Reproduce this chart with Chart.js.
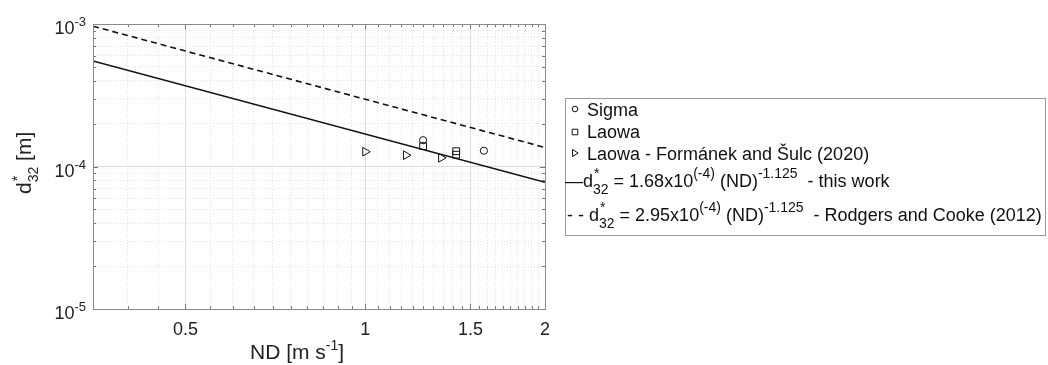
<!DOCTYPE html>
<html>
<head>
<meta charset="utf-8">
<script src="https://cdn.jsdelivr.net/npm/chart.js@4.4.1/dist/chart.umd.min.js"></script>
<style>
  body { margin: 0; background: #fff; }
  #wrap { position: relative; width: 1048px; height: 365px; }
</style>
</head>
<body>
<div id="wrap"><canvas id="myChart"></canvas></div>
<script>
// values
var sigmaX = [1.25, 1.58];
var sigmaY = [1.53e-4, 1.29e-4];
var laowaX = [1.25, 1.42, 1.42];
var laowaY = [1.39e-4, 1.28e-4, 1.21e-4];
var formanekX = [1.0, 1.17, 1.34];
var formanekY = [1.27e-4, 1.2e-4, 1.15e-4];
var thisWorkX = [0.35, 2];
var thisWorkY = [5.5e-4, 7.75e-5];
var rodgersX = [0.35, 2];
var rodgersY = [9.65e-4, 1.36e-4];

var xTickLabels = ['0.5', '1', '1.5', '2'];
var xMajor = [0.5, 1, 1.5, 2];
var xMinor = [0.35, 0.4, 0.45, 0.55, 0.6, 0.65, 0.7, 0.75, 0.8, 0.85, 0.9, 0.95,
    1.05, 1.1, 1.15, 1.2, 1.25, 1.3, 1.35, 1.4, 1.45, 1.55, 1.6, 1.65, 1.7,
    1.75, 1.8, 1.85, 1.9, 1.95];
var yMajor = [1e-5, 1e-4, 1e-3];
var yTickExp = ['-5', '-4', '-3'];
var yMinor = [2e-5, 3e-5, 4e-5, 5e-5, 6e-5, 7e-5, 8e-5, 9e-5,
    2e-4, 3e-4, 4e-4, 5e-4, 6e-4, 7e-4, 8e-4, 9e-4];

var FONT = '"Liberation Sans", Arial, sans-serif';

function pts(xs, ys) {
    return xs.map(function (x, i) { return {x: x, y: ys[i]}; });
}

function tickList(major, minor) {
    return major.concat(minor).sort(function (a, b) { return a - b; })
        .map(function (v) { return {value: v, major: major.indexOf(v) >= 0}; });
}

// draws text pieces one after another; piece = [text, size, dy] or {top, bot}
function rich(ctx, parts, x, y) {
    parts.forEach(function (p) {
        if (p.top !== undefined) {
            ctx.font = '14px ' + FONT;
            var w1 = ctx.measureText(p.top).width;
            var w2 = ctx.measureText(p.bot).width;
            ctx.fillText(p.top, x + 1, y - 9);
            ctx.fillText(p.bot, x, y + 7);
            x += Math.max(w1, w2);
        } else {
            ctx.font = p[1] + 'px ' + FONT;
            ctx.fillText(p[0], x, y + (p[2] || 0));
            x += ctx.measureText(p[0]).width;
        }
    });
    return x;
}

function marker(ctx, kind, x, y, r) {
    ctx.beginPath();
    if (kind === 'circle') {
        ctx.arc(x, y, r, 0, Math.PI * 2);
    } else if (kind === 'rect') {
        ctx.rect(x - r, y - r, 2 * r, 2 * r);
    } else {
        ctx.moveTo(x - r * 0.7, y - r);
        ctx.lineTo(x + r * 0.9, y);
        ctx.lineTo(x - r * 0.7, y + r);
        ctx.closePath();
    }
    ctx.stroke();
}

var decor = {
    id: 'decor',
    afterDraw: function (chart) {
        var ctx = chart.ctx;
        var a = chart.chartArea;
        var xs = chart.scales.x, ys = chart.scales.y;
        ctx.save();
        // inward tick marks on all four sides
        ctx.strokeStyle = '#777';
        ctx.lineWidth = 1;
        ctx.beginPath();
        tickList(xMajor, xMinor).forEach(function (t) {
            var px = Math.round(xs.getPixelForValue(t.value)) + 0.5;
            var len = t.major ? 5 : 3;
            ctx.moveTo(px, a.bottom); ctx.lineTo(px, a.bottom - len);
            ctx.moveTo(px, a.top); ctx.lineTo(px, a.top + len);
        });
        tickList(yMajor, yMinor).forEach(function (t) {
            var py = Math.round(ys.getPixelForValue(t.value)) + 0.5;
            var len = t.major ? 5 : 3;
            ctx.moveTo(a.left, py); ctx.lineTo(a.left + len, py);
            ctx.moveTo(a.right, py); ctx.lineTo(a.right - len, py);
        });
        ctx.stroke();
        ctx.strokeStyle = '#8a8a8a';
        ctx.strokeRect(Math.round(a.left) + 0.5, Math.round(a.top) + 0.5,
            Math.round(a.right - a.left), Math.round(a.bottom - a.top));

        // tick labels
        ctx.fillStyle = '#222';
        ctx.textBaseline = 'alphabetic';
        ctx.font = '18px ' + FONT;
        ctx.textAlign = 'center';
        xMajor.forEach(function (v, i) {
            ctx.fillText(xTickLabels[i], xs.getPixelForValue(v), a.bottom + 26);
        });
        ctx.textAlign = 'left';
        yMajor.forEach(function (v, i) {
            var py = ys.getPixelForValue(v);
            ctx.font = '13px ' + FONT;
            var we = ctx.measureText(yTickExp[i]).width;
            ctx.font = '18px ' + FONT;
            var wb = ctx.measureText('10').width;
            rich(ctx, [['10', 18], [yTickExp[i], 13, -8]], 86 - we - wb, py + 10);
        });

        // axis titles
        rich(ctx, [['ND [m s', 21], ['-1', 14, -9], [']', 21]], 250, 359);
        ctx.save();
        ctx.translate(31, 194);
        ctx.rotate(-Math.PI / 2);
        rich(ctx, [['d', 21], {top: '*', bot: '32'}, [' [m]', 21]], 0, 0);
        ctx.restore();

        // legend box
        var lx = 565, ly = 98, lw = 480, lh = 137;
        ctx.fillStyle = '#fff';
        ctx.fillRect(lx, ly, lw, lh);
        ctx.strokeStyle = '#999';
        ctx.strokeRect(lx + 0.5, ly + 0.5, lw, lh);
        ctx.fillStyle = '#111';
        ctx.strokeStyle = '#111';
        ctx.lineWidth = 1;
        marker(ctx, 'circle', 575, 109, 2.8);
        marker(ctx, 'rect', 575, 132, 2.8);
        marker(ctx, 'tri', 575, 153, 3.5);
        rich(ctx, [['Sigma', 18]], 587, 116);
        rich(ctx, [['Laowa', 18]], 587, 138);
        rich(ctx, [['Laowa - Formánek and Šulc (2020)', 18]], 587, 160);
        rich(ctx, [['\u2014', 18], ['d', 18], {top: '*', bot: '32'},
            [' = 1.68x10', 18], ['(-4)', 14, -9], [' (ND)', 18], ['-1.125', 14, -9],
            ['  - this work', 18]], 565, 187);
        rich(ctx, [['- - ', 18], ['d', 18], {top: '*', bot: '32'},
            [' = 2.95x10', 18], ['(-4)', 14, -9], [' (ND)', 18], ['-1.125', 14, -9],
            ['  - Rodgers and Cooke (2012)', 18]], 567, 221);
        ctx.restore();
    }
};

var ctx = document.getElementById('myChart').getContext('2d');
var myChart = new Chart(ctx, {
    type: 'scatter',
    data: {
        datasets: [{
            label: 'Sigma',
            data: pts(sigmaX, sigmaY),
            pointStyle: 'circle',
            pointRadius: 3.6,
            borderColor: '#111',
            backgroundColor: 'rgba(0,0,0,0)',
            borderWidth: 1},
        {
            label: 'Laowa',
            data: pts(laowaX, laowaY),
            pointStyle: 'rect',
            pointRadius: 4.8,
            borderColor: '#111',
            backgroundColor: 'rgba(0,0,0,0)',
            borderWidth: 1},
        {
            label: 'Laowa - Formánek and Šulc (2020)',
            data: pts(formanekX, formanekY),
            pointStyle: 'triangle',
            rotation: 90,
            pointRadius: 5,
            borderColor: '#111',
            backgroundColor: 'rgba(0,0,0,0)',
            borderWidth: 1},
        {
            label: 'this work',
            data: pts(thisWorkX, thisWorkY),
            showLine: true,
            pointRadius: 0,
            borderColor: '#111',
            borderWidth: 1.6},
        {
            label: 'Rodgers and Cooke (2012)',
            data: pts(rodgersX, rodgersY),
            showLine: true,
            pointRadius: 0,
            borderDash: [6, 4],
            borderColor: '#111',
            borderWidth: 1.6}
        ]
    },
    options: {
        responsive: true,
        maintainAspectRatio: false,
        animation: false,
        layout: {
            padding: {left: 93, top: 24, right: 503, bottom: 56}
        },
        plugins: {
            legend: {display: false},
            tooltip: {enabled: false}
        },
        scales: {
            x: {
                type: 'logarithmic',
                min: 0.35,
                max: 2,
                afterBuildTicks: function (scale) {
                    scale.ticks = tickList(xMajor, xMinor);
                },
                ticks: {display: false},
                border: {display: false,
                    dash: function (c) { return c.tick && c.tick.major ? [] : [1, 2]; }},
                grid: {
                    drawTicks: false,
                    color: function (c) { return c.tick && c.tick.major ? '#dcdcdc' : '#e4e4e4'; }
                }
            },
            y: {
                type: 'logarithmic',
                min: 1e-5,
                max: 1e-3,
                afterBuildTicks: function (scale) {
                    scale.ticks = tickList(yMajor, yMinor);
                },
                ticks: {display: false},
                border: {display: false,
                    dash: function (c) { return c.tick && c.tick.major ? [] : [1, 2]; }},
                grid: {
                    drawTicks: false,
                    color: function (c) { return c.tick && c.tick.major ? '#dcdcdc' : '#e4e4e4'; }
                }
            }
        }
    },
    plugins: [decor]
});
</script>
</body>
</html>
